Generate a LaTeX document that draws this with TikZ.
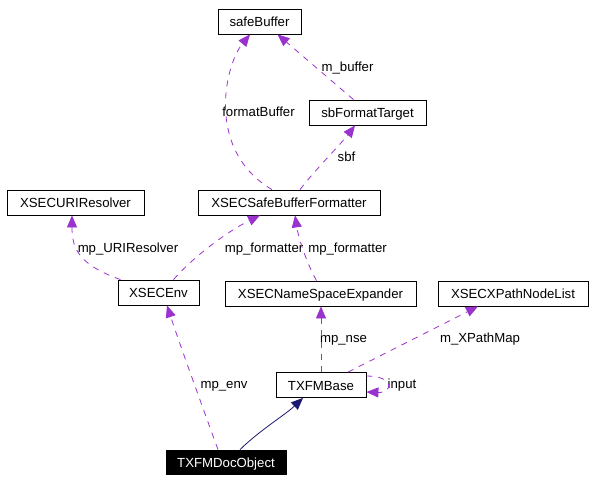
\documentclass[tikz,border=0pt]{standalone}
\usepackage{fontspec}
\setmainfont{Liberation Sans}
\usetikzlibrary{arrows.meta}
\definecolor{relcol}{HTML}{9A32CD}
\definecolor{inhcol}{HTML}{191970}

\begin{document}
\begin{tikzpicture}[x=1pt,y=-1pt,
                    cls/.style={rectangle,draw,fill=white,line width=0.8pt,inner sep=0pt,minimum height=25pt,
                                font=\fontsize{13.2}{15}\selectfont,text height=10pt,text depth=0pt},
                    lbl/.style={inner sep=0pt,font=\fontsize{13.2}{15}\selectfont,text height=10pt,text depth=0pt},
                    rel/.style={draw=relcol,line width=0.8pt,dash pattern=on 6pt off 6pt,
                                -{Triangle[length=12pt,width=10pt,fill=relcol,color=relcol]}},
                    inh/.style={draw=inhcol,line width=0.8pt,
                                -{Triangle[length=12pt,width=10pt,fill=inhcol,color=inhcol]}}]
  \useasboundingbox (0,0) rectangle (602,482);
  \node[cls,minimum width=83pt]  (sbuf)     at (259.5,21.5)  {safeBuffer};
  \node[cls,minimum width=117pt] (sbft)     at (367.5,112.5) {sbFormatTarget};
  \node[cls,minimum width=137pt] (resolver) at (75.5,202.5)  {XSECURIResolver};
  \node[cls,minimum width=182pt] (fmt)      at (289,202.5)   {XSECSafeBufferFormatter};
  \node[cls,minimum width=81pt]  (env)      at (158.5,292.5) {XSECEnv};
  \node[cls,minimum width=191pt] (nse)      at (320.5,293.5) {XSECNameSpaceExpander};
  \node[cls,minimum width=150pt] (xpl)      at (513,293.5)   {XSECXPathNodeList};
  \node[cls,minimum width=90pt]  (base)     at (321,385)     {TXFMBase};
  \node[cls,minimum width=120pt,minimum height=24pt,fill=black,text=white] (doc) at (226,462) {TXFMDocObject};

  \node[lbl] (lbuffer)  at (347.5,66)  {m\_buffer};
  \node[lbl] (lformat)  at (258.5,111) {formatBuffer};
  \node[lbl] (lsbf)     at (346.5,156) {sbf};
  \node[lbl] (lres)     at (128,247)   {mp\_URIResolver};
  \node[lbl] (lfmtenv)  at (264,247)   {mp\_formatter};
  \node[lbl] (lfmtnse)  at (347.5,247) {mp\_formatter};
  \node[lbl] (lnse)     at (343.5,337) {mp\_nse};
  \node[lbl] (lxpath)   at (480,337)   {m\_XPathMap};
  \node[lbl] (lenv)     at (224,383)   {mp\_env};
  \node[lbl] (linput)   at (402,383)   {input};

  \draw[rel] ([xshift=-14pt]sbft.north) -- ([xshift=18pt]sbuf.south);
  \draw[rel] ([xshift=-17pt]fmt.north) .. controls (205,150) and (225,65) .. ([xshift=-9.5pt]sbuf.south);
  \draw[rel] ([xshift=11pt]fmt.north) .. controls (315,170) and (340,145) .. ([xshift=-12.5pt]sbft.south);
  \draw[rel] ([xshift=-38pt]env.north) .. controls (80,265) and (72,250) .. ([xshift=-3.5pt]resolver.south);
  \draw[rel] ([xshift=15pt]env.north) .. controls (195,255) and (230,230) .. ([xshift=-29pt]fmt.south);
  \draw[rel] ([xshift=-4pt]nse.north) .. controls (305,260) and (298,235) .. ([xshift=6pt]fmt.south);
  \draw[rel] (base.north) -- (base.north |- nse.south);
  \draw[rel] ([xshift=27pt]base.north) -- ([xshift=-35pt]xpl.south);
  \draw[rel] ([yshift=9pt]base.east) .. controls (395,376) and (393,393) .. ([yshift=-7pt]base.east);
  \draw[rel] ([xshift=-8pt]doc.north) .. controls (200,400) and (180,345) .. ([xshift=8.5pt]env.south);
  \draw[inh] ([xshift=14pt]doc.north) .. controls (260,430) and (285,415) .. ([xshift=-18pt]base.south);
\end{tikzpicture}
\end{document}
